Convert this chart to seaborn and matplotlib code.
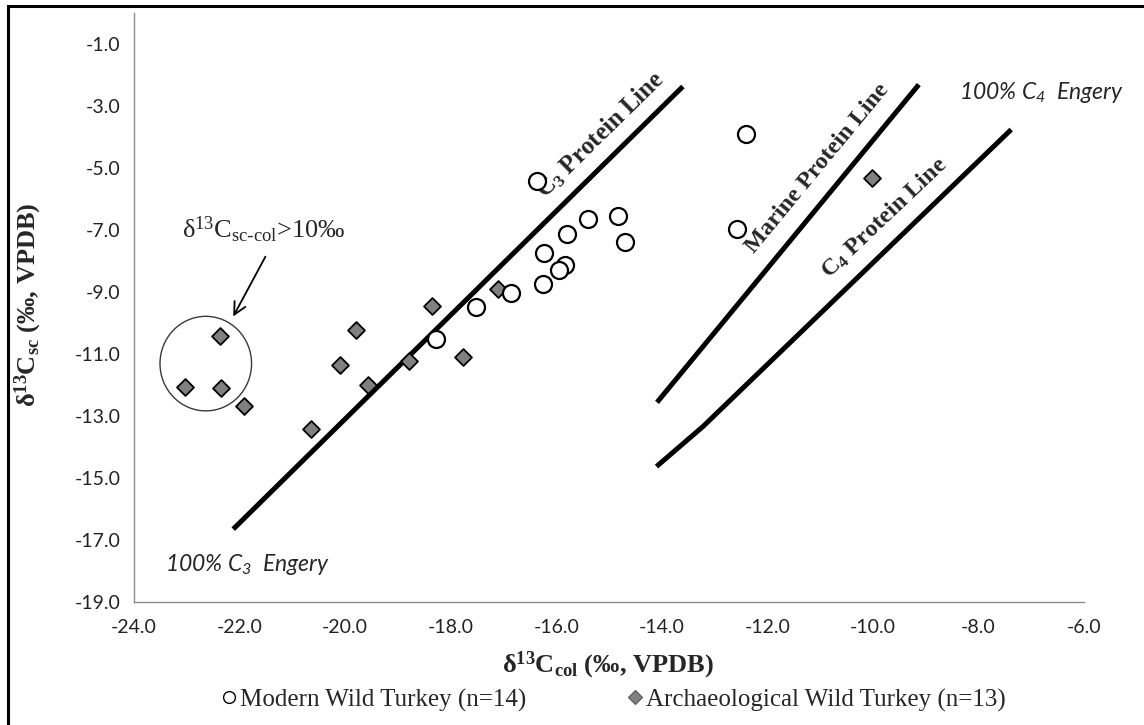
import numpy as np
import pandas as pd
import matplotlib
matplotlib.use("Agg")
import matplotlib.pyplot as plt
from matplotlib.lines import Line2D
from matplotlib.patches import Ellipse, Rectangle
import seaborn as sns

# Modern wild turkey (bone collagen vs. structural carbonate, ‰ VPDB)
modern_col = [-16.37, -14.83, -15.40, -14.70, -15.79, -16.23, -15.84,
              -15.94, -16.25, -16.85, -17.52, -18.27, -12.40, -12.57]
modern_sc = [-5.43, -6.54, -6.65, -7.40, -7.12, -7.74, -8.12,
             -8.28, -8.73, -9.03, -9.48, -10.52, -3.89, -6.97]

# Archaeological wild turkey
arch_col = [-22.38, -23.03, -22.36, -21.91, -20.64, -20.09, -19.80,
            -19.57, -18.79, -18.36, -17.76, -17.10, -10.01]
arch_sc = [-10.41, -12.06, -12.10, -12.67, -13.42, -11.35, -10.22,
           -11.99, -11.22, -9.46, -11.10, -8.90, -5.32]

# Reference protein lines
c3_line_col = [-22.12, -13.60]
c3_line_sc = [-16.65, -2.37]
marine_line_col = [-14.09, -9.13]
marine_line_sc = [-12.56, -2.31]
c4_line_col = [-14.10, -13.22, -7.38]
c4_line_sc = [-14.63, -13.34, -3.76]

x_ticks = [-24.0, -22.0, -20.0, -18.0, -16.0, -14.0, -12.0, -10.0, -8.0, -6.0]
y_ticks = [-19.0, -17.0, -15.0, -13.0, -11.0, -9.0, -7.0, -5.0, -3.0, -1.0]

legend_labels = ["Modern Wild Turkey (n=14)", "Archaeological Wild Turkey (n=13)"]

sns.set_style("white")
plt.rcParams["font.family"] = ["Liberation Serif", "DejaVu Serif"]
plt.rcParams["mathtext.fontset"] = "custom"
plt.rcParams["mathtext.default"] = "regular"

SANS = ["Lato", "Liberation Sans", "DejaVu Sans"]
AXIS_GRAY = "#8c8c8c"

W, H = 1144, 725
fig = plt.figure(figsize=(W / 100, H / 100), dpi=100)
ax = fig.add_axes([134 / W, 1 - 602 / H, (1084 - 134) / W, (602 - 13) / H])

modern = pd.DataFrame({"col": modern_col, "sc": modern_sc})
arch = pd.DataFrame({"col": arch_col, "sc": arch_sc})

# Protein lines
for xs, ys in [(c3_line_col, c3_line_sc), (marine_line_col, marine_line_sc),
               (c4_line_col, c4_line_sc)]:
    sns.lineplot(x=xs, y=ys, ax=ax, color="black", linewidth=3.6,
                 sort=False, estimator=None, solid_capstyle="butt", zorder=2)

sns.scatterplot(data=arch, x="col", y="sc", ax=ax, marker="D", s=74,
                color="#808080", edgecolor="black", linewidth=1.3, zorder=3)
sns.scatterplot(data=modern, x="col", y="sc", ax=ax, marker="o", s=150,
                color="white", edgecolor="black", linewidth=1.6, zorder=4)

ax.set_xlim(-24, -6)
ax.set_ylim(-19, 0)
ax.set_xticks(x_ticks)
ax.set_yticks(y_ticks)
ax.set_xticklabels([f"{v:.1f}" for v in x_ticks], fontfamily=SANS, fontsize=14)
ax.set_yticklabels([f"{v:.1f}" for v in y_ticks], fontfamily=SANS, fontsize=14)
ax.set_xlabel("")
ax.set_ylabel("")
for side in ["top", "right"]:
    ax.spines[side].set_visible(False)
for side in ["left", "bottom"]:
    ax.spines[side].set_color(AXIS_GRAY)
    ax.spines[side].set_linewidth(1.0)
ax.tick_params(axis="both", direction="inout", length=11, width=1.0,
               color=AXIS_GRAY, labelcolor="#222222", pad=4)
ax.tick_params(axis="x", pad=7)

# Line labels
ax.text(-15.17, -3.93, "C$_3$ Protein Line", rotation=44.5, ha="center",
        va="center", fontsize=18, fontweight="bold", rotation_mode="anchor")
ax.text(-11.05, -5.02, "Marine Protein Line", rotation=50.5, ha="center",
        va="center", fontsize=17.5, fontweight="bold", rotation_mode="anchor")
ax.text(-9.78, -6.60, "C$_4$ Protein Line", rotation=43.5, ha="center",
        va="center", fontsize=17.5, fontweight="bold", rotation_mode="anchor")
ax.text(-8.36, -2.57, "100% C$_4$  Engery", ha="left", va="center",
        fontsize=16.5, style="italic", fontfamily=SANS)
ax.text(-23.41, -17.80, "100% C$_3$  Engery", ha="left", va="center",
        fontsize=16.5, style="italic", fontfamily=SANS)

# Highlighted group with large carbonate–collagen spacing
ax.add_patch(Ellipse((-22.64, -11.31), 1.735, 3.05, fill=False,
                     edgecolor="#3a3a3a", linewidth=1.0, zorder=2))
ax.annotate("", xy=(-22.12, -9.79), xytext=(-21.51, -7.86),
            arrowprops=dict(arrowstyle="->", color="black", lw=1.3,
                            mutation_scale=22, shrinkA=0, shrinkB=0))
ax.text(-23.09, -7.0, r"δ$^{13}$C$_{sc\text{-}col}$>10‰", ha="left",
        va="center", fontsize=19)

# Axis titles
fig.text(608 / W, 1 - 665 / H, "δ$^{13}$C$_{col}$ (‰, VPDB)", ha="center",
         va="center", fontsize=19, fontweight="bold")
fig.text(28 / W, 1 - 305 / H, "δ$^{13}$C$_{sc}$ (‰, VPDB)", ha="center",
         va="center", fontsize=19, fontweight="bold", rotation=90)

# Legend below the axis title
handles = [
    Line2D([], [], linestyle="none", marker="o", markersize=8.5,
           markerfacecolor="white", markeredgecolor="black", markeredgewidth=1.0),
    Line2D([], [], linestyle="none", marker="D", markersize=7,
           markerfacecolor="#808080", markeredgecolor="#555555", markeredgewidth=0.8),
]
fig.legend(handles, legend_labels, loc="center", bbox_to_anchor=(613 / W, 1 - 700 / H),
           ncol=2, frameon=False, fontsize=18, handlelength=0.7,
           handletextpad=0.1, columnspacing=4.0, borderaxespad=0)

# Outer frame
fig.add_artist(Rectangle((7.5 / W, -0.2), 1.5, 1.2 - 5.5 / H,
                         transform=fig.transFigure, fill=False,
                         edgecolor="black", linewidth=2.2))

fig.savefig("out.png", dpi=100)
